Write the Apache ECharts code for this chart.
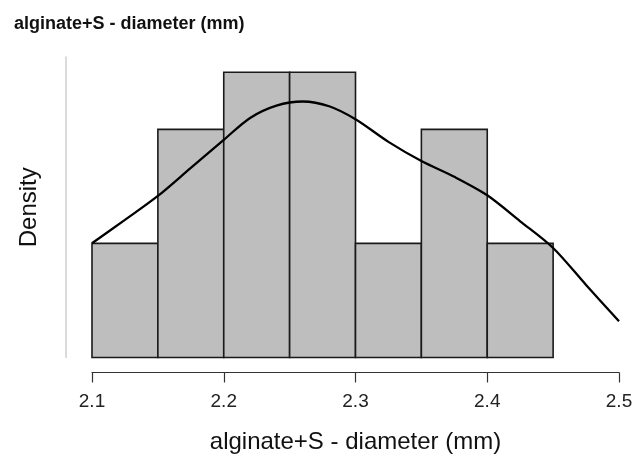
<!DOCTYPE html>
<html>
<head>
<meta charset="utf-8">
<script src="https://cdn.jsdelivr.net/npm/echarts@6/dist/echarts.min.js"></script>
<style>
  html, body { margin: 0; padding: 0; background: #fff; }
  #chart { width: 639px; height: 461px; }
</style>
</head>
<body>
<div id="chart"></div>
<script>
// Histogram bins (mm) and their densities
const binStarts = [2.10, 2.15, 2.20, 2.25, 2.30, 2.35, 2.40];
const binEnds   = [2.15, 2.20, 2.25, 2.30, 2.35, 2.40, 2.45];
const binDensity = [1.667, 3.333, 4.167, 4.167, 1.667, 3.333, 1.667];

// Kernel density estimate
const kdeX = [2.100, 2.125, 2.150, 2.175, 2.200, 2.220, 2.240, 2.260, 2.280, 2.300, 2.325, 2.350, 2.375, 2.400, 2.425, 2.450, 2.475, 2.500];
const kdeY = [1.67, 2.01, 2.36, 2.77, 3.18, 3.50, 3.68, 3.74, 3.67, 3.48, 3.15, 2.87, 2.64, 2.37, 1.99, 1.60, 1.06, 0.53];

// X-axis ticks
const xTicks = [2.1, 2.2, 2.3, 2.4, 2.5];

const font = '"Liberation Sans", Arial, sans-serif';

const chart = echarts.init(document.getElementById('chart'), null, { renderer: 'canvas' });

chart.setOption({
  animation: false,
  backgroundColor: '#ffffff',
  title: {
    text: 'alginate+S - diameter (mm)',
    left: 9,
    top: 10,
    textStyle: { fontFamily: font, fontSize: 18, fontWeight: 'bold', color: '#111' }
  },
  grid: { left: 92, right: 20, top: 57, bottom: 103.5 },
  xAxis: {
    type: 'value',
    min: xTicks[0],
    max: xTicks[xTicks.length - 1],
    interval: 0.1,
    offset: 15,
    splitLine: { show: false },
    axisLine: { show: true, onZero: false, lineStyle: { color: '#333', width: 1.2 } },
    axisTick: { show: true, length: 10, lineStyle: { color: '#333', width: 1.2 } },
    axisLabel: {
      fontFamily: font, fontSize: 19, color: '#222', margin: 20,
      formatter: v => v.toFixed(1)
    },
    name: 'alginate+S - diameter (mm)',
    nameLocation: 'middle',
    nameGap: 58,
    nameTextStyle: { fontFamily: font, fontSize: 24, color: '#111' }
  },
  yAxis: {
    type: 'value',
    min: 0,
    max: 4.39,
    offset: 26,
    splitLine: { show: false },
    axisLine: { show: true, onZero: false, lineStyle: { color: '#cfcfcf', width: 1.5 } },
    axisTick: { show: false },
    axisLabel: { show: false },
    name: 'Density',
    nameLocation: 'middle',
    nameGap: 25,
    nameTextStyle: { fontFamily: font, fontSize: 24, color: '#111' }
  },
  series: [
    {
      type: 'custom',
      data: binStarts.map((s, i) => [s, binEnds[i], binDensity[i]]),
      renderItem: function (params, api) {
        const p0 = api.coord([api.value(0), 0]);
        const p1 = api.coord([api.value(1), api.value(2)]);
        return {
          type: 'rect',
          shape: { x: p0[0], y: p1[1], width: p1[0] - p0[0], height: p0[1] - p1[1] },
          style: { fill: '#bebebe', stroke: '#1a1a1a', lineWidth: 1.6 }
        };
      },
      z: 1
    },
    {
      type: 'line',
      data: kdeX.map((x, i) => [x, kdeY[i]]),
      smooth: 0.3,
      showSymbol: false,
      lineStyle: { color: '#000', width: 2.3 },
      z: 2
    }
  ]
});
</script>
</body>
</html>
